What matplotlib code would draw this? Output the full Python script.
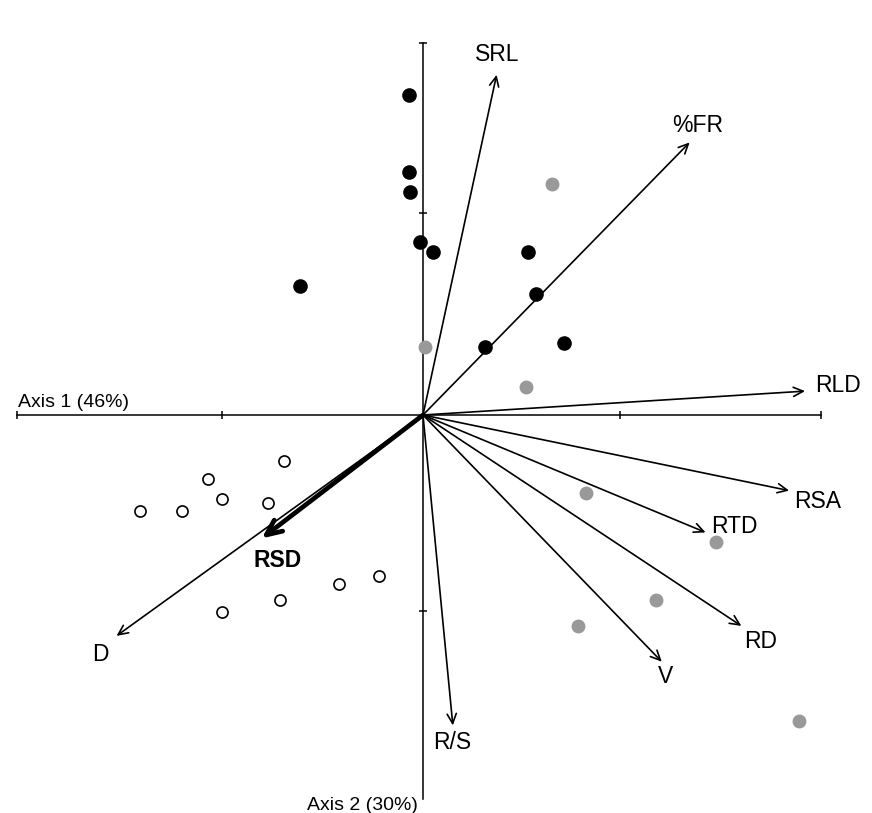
import matplotlib.pyplot as plt

plt.rcParams["font.family"] = ["Liberation Sans", "DejaVu Sans"]

# sample scores (axis 1, axis 2)
black_x = [-0.07, -0.07, -0.065, -0.015, 0.05, -0.62, 0.53, 0.57, 0.31, 0.71]
black_y = [1.61, 1.22, 1.12, 0.87, 0.82, 0.65, 0.82, 0.61, 0.34, 0.36]

grey_x = [0.65, 0.01, 0.52, 0.82, 1.47, 1.17, 0.78, 1.89]
grey_y = [1.16, 0.34, 0.14, -0.39, -0.64, -0.93, -1.06, -1.54]

open_x = [-0.70, -1.08, -1.01, -0.78, -1.42, -1.21, -0.22, -0.42, -0.72, -1.01]
open_y = [-0.23, -0.32, -0.42, -0.44, -0.48, -0.48, -0.81, -0.85, -0.93, -0.99]

# variable loadings
var_names = ["SRL", "%FR", "RLD", "RSA", "RTD", "RD", "V", "R/S", "D", "RSD"]
var_x = [0.37, 1.34, 1.92, 1.84, 1.42, 1.60, 1.20, 0.15, -1.54, -0.81]
var_y = [1.71, 1.37, 0.12, -0.38, -0.59, -1.06, -1.24, -1.56, -1.11, -0.62]

# label offsets from arrow tip (points) and alignment
label_off = {
    "SRL": (0.7, 14.4, "center"),
    "%FR": (5.8, 12.2, "center"),
    "RLD": (7.0, 4.3, "left"),
    "RSA": (3.4, -7.9, "left"),
    "RTD": (4.0, 4.3, "left"),
    "RD": (2.0, -11.5, "left"),
    "V": (2.9, -10.8, "center"),
    "R/S": (-0.7, -12.2, "center"),
    "D": (-11.5, -13.7, "center"),
    "RSD": (11.5, -15.8, "center"),
}

fig = plt.figure(figsize=(8.72, 8.13), dpi=100)
ax = fig.add_axes([0, 0, 1, 1])
ax.set_xlim(-2.1256, 2.2563)
ax.set_ylim(-2.0, 2.0854)
ax.axis("off")

# axes through the origin
ax.plot([-2.04, 2.0], [0, 0], color="black", lw=1.1, zorder=1)
ax.plot([0, 0], [-1.93, 1.87], color="black", lw=1.1, zorder=1)
ax.plot([-2.04, -1.01, 0.99, 2.0], [0, 0, 0, 0], ls="none", marker="|",
        ms=6, mew=1.1, color="black")
ax.plot([0, 0, 0], [1.015, -0.985, 1.87], ls="none", marker="_",
        ms=6, mew=1.1, color="black")

ax.text(-2.035, 0.04, "Axis 1 (46%)", fontsize=14, va="baseline", ha="left")
ax.text(-0.025, -1.985, "Axis 2 (30%)", fontsize=14, va="baseline", ha="right")

# points
ax.plot(black_x, black_y, "o", color="black", ms=9.5, zorder=3)
ax.plot(grey_x, grey_y, "o", color="#999999", ms=9, zorder=3)
ax.plot(open_x, open_y, "o", mfc="white", mec="black", mew=1.2, ms=8, zorder=3)

# arrows
for name, vx, vy in zip(var_names, var_x, var_y):
    if name == "RSD":
        style = "->,head_length=1.1,head_width=0.5"
        lw = 3.4
        weight = "bold"
    else:
        style = "->,head_length=0.7,head_width=0.33"
        lw = 1.2
        weight = "normal"
    ax.annotate("", xy=(vx, vy), xytext=(0, 0),
                arrowprops=dict(arrowstyle=style, lw=lw, color="black",
                                shrinkA=0, shrinkB=0), zorder=2)
    dx, dy, ha = label_off[name]
    ax.annotate(name, xy=(vx, vy), xytext=(dx, dy), textcoords="offset points",
                ha=ha, va="center", fontsize=16.5, fontweight=weight)

plt.savefig("out.png", dpi=100)
